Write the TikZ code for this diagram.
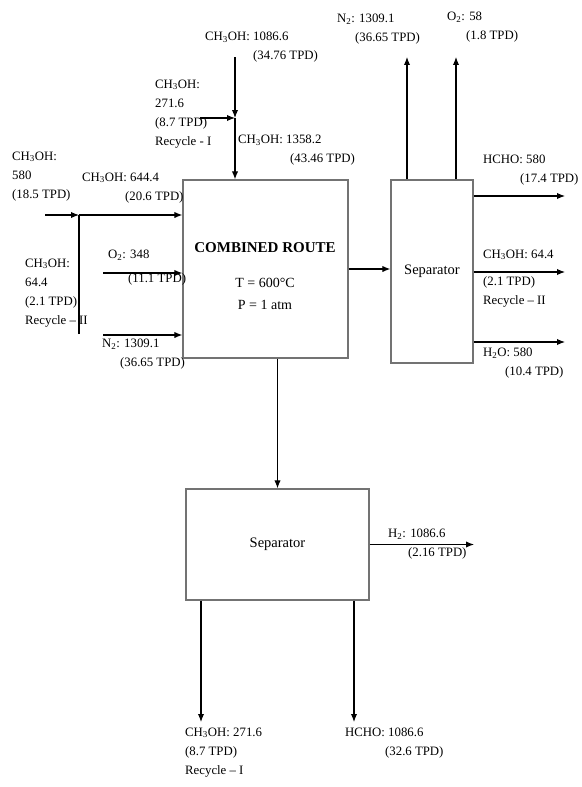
\documentclass[tikz,border=0pt]{standalone}
\usepackage{fontspec}
\setmainfont{Liberation Serif}
\usetikzlibrary{arrows.meta,positioning}
\newcommand{\methanol}{CH\textsubscript{3}OH}

\begin{document}
\begin{tikzpicture}[
    x=1pt,y=-1pt,
    unit/.style={rectangle,draw=black!55,line width=1.2pt,inner sep=0pt,
                 font=\fontsize{14.5}{18}\selectfont},
    lbl/.style={anchor=north west,inner sep=0pt,align=left,
                font=\fontsize{12.8}{19}\selectfont},
    arrow/.style={-{Latex[length=2.8mm,width=2.2mm]},line width=1.1pt}
]
    \useasboundingbox (0,0) rectangle (581,787);
    % units
    \node[unit,minimum width=165pt,minimum height=178pt] (route) at (265.5,269) {};
    \node[font=\fontsize{15}{18}\bfseries\selectfont] (routename) at (265,248) {COMBINED ROUTE};
    \node[align=center,font=\fontsize{14}{22}\selectfont] (routecond) at (265,294) {T = 600°C\\P = 1 atm};
    \node[unit,minimum width=82pt,minimum height=183pt] (sepR) at (432,271.5) {Separator};
    \node[unit,minimum width=183pt,minimum height=111pt] (sepB) at (277.5,544.5) {Separator};
    % stream ends
    \coordinate (feedtop) at (235,57);
    \coordinate (mixtop) at (235,118);
    \coordinate (rec1in) at (200,118);
    \coordinate (feedleft) at (45,215);
    \coordinate (mixleft) at (79,215);
    \coordinate (rec2in) at (79,334);
    \coordinate (o2in) at (103,273);
    \coordinate (n2in) at (103,335);
    \coordinate (n2out) at (407,57);
    \coordinate (o2out) at (456,57);
    \coordinate (hchoout) at (565,196);
    \coordinate (rec2out) at (565,272);
    \coordinate (h2oout) at (565,342);
    \coordinate (h2out) at (474,544.5);
    \coordinate (rec1out) at (201,722);
    \coordinate (hchobot) at (354,722);
    % feeds
    \draw[arrow] (feedtop)--(mixtop);
    \draw[arrow] (rec1in)--(mixtop);
    \draw[arrow] (mixtop)--(mixtop |- route.north);
    \draw[arrow] (feedleft)--(mixleft);
    \draw[line width=1.1pt] (rec2in)--(mixleft);
    \draw[arrow] (mixleft)--(mixleft -| route.west);
    \draw[arrow] (o2in)--(o2in -| route.west);
    \draw[arrow] (n2in)--(n2in -| route.west);
    % products
    \draw[arrow] (route.east)--(route.east -| sepR.west);
    \draw[arrow] (route.south -| sepB.north)--(sepB.north);
    \draw[arrow] (n2out |- sepR.north)--(n2out);
    \draw[arrow] (o2out |- sepR.north)--(o2out);
    \draw[arrow] (hchoout -| sepR.east)--(hchoout);
    \draw[arrow] (rec2out -| sepR.east)--(rec2out);
    \draw[arrow] (h2oout -| sepR.east)--(h2oout);
    \draw[arrow] (sepB.east)--(h2out);
    \draw[arrow] (rec1out |- sepB.south)--(rec1out);
    \draw[arrow] (hchobot |- sepB.south)--(hchobot);
    % labels
    \node[lbl] (lblfeed) at (205,31.5) {\methanol: 1086.6\\\hspace*{48pt}(34.76 TPD)};
    \node[lbl] (lblrecIin) at (155,79.5) {\methanol:\\271.6\\(8.7 TPD)\\Recycle - I};
    \node[lbl] (lblmix) at (238,134.5) {\methanol: 1358.2\\\hspace*{52pt}(43.46 TPD)};
    \node[lbl] (lblfresh) at (12,151.5) {\methanol:\\580\\(18.5 TPD)};
    \node[lbl] (lblfeedleft) at (82,172.5) {\methanol: 644.4\\\hspace*{43pt}(20.6 TPD)};
    \node[lbl] (lblrecIIin) at (25,258.5) {\methanol:\\64.4\\(2.1 TPD)\\Recycle -- II};
    \node[lbl] (lbloin) at (108,249.5) {O\textsubscript{2}: 348\\[5pt]\hspace*{20pt}(11.1 TPD)};
    \node[lbl] (lblnin) at (102,338.5) {N\textsubscript{2}: 1309.1\\\hspace*{18pt}(36.65 TPD)};
    \node[lbl] (lblnout) at (337,13.5) {N\textsubscript{2}: 1309.1\\\hspace*{18pt}(36.65 TPD)};
    \node[lbl] (lbloout) at (447,11.5) {O\textsubscript{2}: 58\\\hspace*{19pt}(1.8 TPD)};
    \node[lbl] (lblhcho) at (483,154.5) {HCHO: 580\\\hspace*{37pt}(17.4 TPD)};
    \node[lbl] (lblrecIIout) at (483,249.5) {\methanol: 64.4\\[8pt](2.1 TPD)\\Recycle -- II};
    \node[lbl] (lblwater) at (483,347.5) {H\textsubscript{2}O: 580\\\hspace*{22pt}(10.4 TPD)};
    \node[lbl] (lblhyd) at (388,528.5) {H\textsubscript{2}: 1086.6\\\hspace*{20pt}(2.16 TPD)};
    \node[lbl] (lblrecIout) at (185,727.5) {\methanol: 271.6\\(8.7 TPD)\\Recycle -- I};
    \node[lbl] (lblhchobot) at (345,727.5) {HCHO: 1086.6\\\hspace*{40pt}(32.6 TPD)};
\end{tikzpicture}
\end{document}
